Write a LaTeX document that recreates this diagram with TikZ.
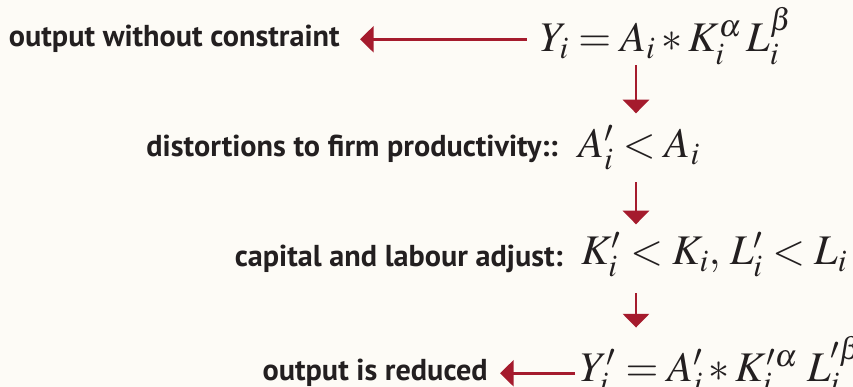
\documentclass[tikz,border=0pt]{standalone}
\usepackage{amsmath}
\usepackage{mathptmx}
\usepackage{fontspec}
\setsansfont{PT Sans}
\usepackage{xcolor}
\usepackage{tikz}
\usetikzlibrary{arrows.meta,calc,positioning}
\definecolor{fondo}{RGB}{253,251,246}
\definecolor{rojo}{RGB}{165,27,45}
\definecolor{tinta}{RGB}{35,31,32}
\tikzset{
  etiqueta/.style={anchor=base east,inner sep=0pt,text=tinta,font=\sffamily\bfseries\fontsize{21.5}{24}\selectfont},
  ecuacion/.style={anchor=base west,inner sep=0pt,text=tinta,font=\fontsize{30}{34}\selectfont},
  flecha/.style={-{Triangle[width=0.65cm,length=0.34cm]},line width=1.8pt,draw=rojo}
}

\begin{document}
\begin{tikzpicture}
\useasboundingbox (0,0) rectangle (21.325,9.675);
\fill[fondo] (0,0) rectangle (21.325,9.675);
% ecuaciones
\node[ecuacion] (eqY) at (13.5,8.375) {$Y_i = A_i \ast K_i^{\alpha}\,L_i^{\beta}$};
\node[ecuacion] (eqA) at (14.45,5.725) {$A'_i < A_i$};
\node[ecuacion] (eqKL) at (14.525,3.05) {$K'_i < K_i,\, L'_i < L_i$};
\node[ecuacion] (eqYp) at (14.5,0.14) {$Y'_i = A'_i \ast K'^{\alpha}_i\;L'^{\beta}_i$};
% etiquetas
\node[etiqueta] (lblY) at (8.5,8.5) {output without constraint};
\node[etiqueta] (lblA) at (13.95,5.75) {distortions to firm productivity::};
\node[etiqueta] (lblKL) at (14.075,3.0) {capital and labour adjust:};
\node[etiqueta] (lblYp) at (12.2,0.15) {output is reduced};
\coordinate (col) at (15.9,0);
% flechas
\draw[flecha,shorten <=0.33cm,shorten >=0.5cm] (eqY.west |- lblY.east) -- (lblY.east);
\draw[flecha,shorten <=0.12cm,shorten >=0.3cm] (eqYp.west |- lblYp.east) -- (lblYp.east);
\draw[flecha,shorten <=0pt,shorten >=0.3cm] (eqY.south -| col) -- (eqA.north -| col);
\draw[flecha,shorten <=0.3cm,shorten >=0.2cm] (eqA.south -| col) -- (eqKL.north -| col);
\draw[flecha,shorten <=0.4cm,shorten >=0.22cm] (eqKL.south -| col) -- (eqYp.north -| col);
\end{tikzpicture}
\end{document}
